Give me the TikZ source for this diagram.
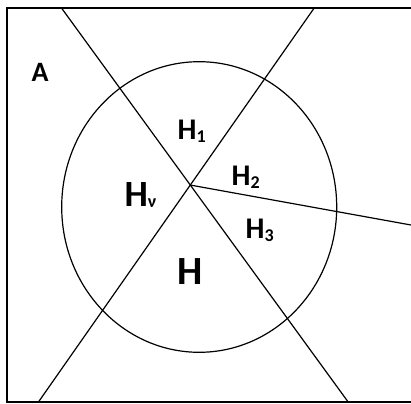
\documentclass[tikz,border=0pt]{standalone}
\usepackage{fontspec}
\setmainfont{Carlito}
\usepackage{tikz}
\usetikzlibrary{positioning}

\newcommand{\hsub}[2][3.5pt]{\raisebox{-#1}{\fontsize{18}{18}\selectfont #2}}

\tikzset{
  region/.style={inner sep=0pt, anchor=base west, font=\bfseries\fontsize{30}{30}\selectfont},
  bigregion/.style={region, font=\bfseries\fontsize{40}{40}\selectfont},
  midregion/.style={region, font=\bfseries\fontsize{37}{37}\selectfont},
  setname/.style={region, font=\bfseries\fontsize{28}{28}\selectfont}
}

\begin{document}
\begin{tikzpicture}[x=1pt, y=-1pt, line width=1.2pt]
      \useasboundingbox (0,0) rectangle (411,403);
      \draw[line width=1.6pt] (411,8.3) -- (7,8.3) -- (7,402.2) -- (411,402.2);
      \coordinate (ntl) at (61.7,8.3);
      \coordinate (nbr) at (348.3,402.2);
      \coordinate (ntr) at (314,8.3);
      \coordinate (nbl) at (38.3,402.2);
      \coordinate (ner) at (411,225);
      \coordinate (o) at (intersection of ntl--nbr and ntr--nbl);
      \draw (199.2,207) ellipse [x radius=137.5, y radius=145.3];
      \draw (ntl) -- (nbr);
      \draw (ntr) -- (nbl);
      \draw (o) -- (ner);
      \node[setname] (a) at (31,81.7) {A};
      \node[region] (h1) at (177,139.3) {H\hsub{1}};
      \node[region] (h2) at (231,185) {H\hsub{2}};
      \node[region] (h3) at (245,238.3) {H\hsub{3}};
      \node[midregion] (hnu) at (124,206.5) {H\hsub[1pt]{ν}};
      \node[bigregion] (h) at (176.5,284.3) {H};
    \end{tikzpicture}
\end{document}
